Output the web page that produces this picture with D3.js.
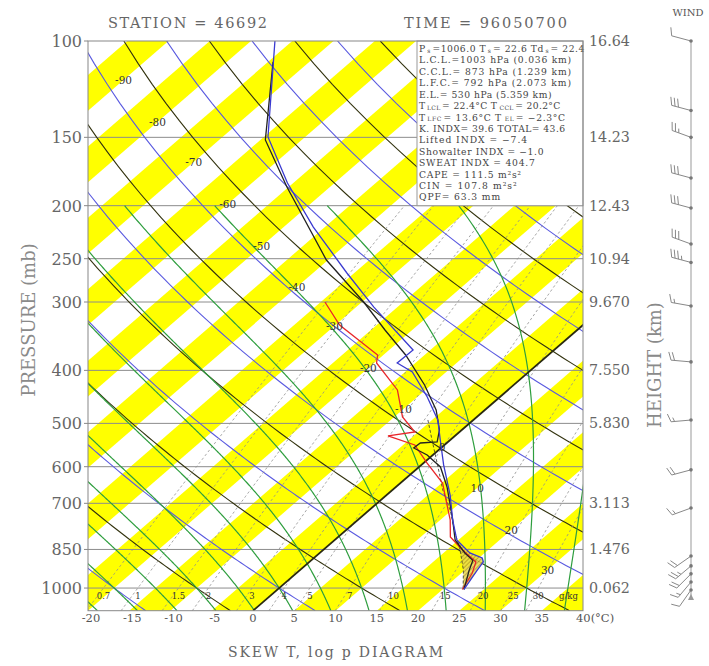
<!DOCTYPE html>
<html><head><meta charset="utf-8">
<script src="https://cdn.jsdelivr.net/npm/d3@7"></script>
<style>body{margin:0;background:#fff} text{font-family:"DejaVu Serif",serif}</style>
</head><body><svg id="c" width="709" height="666"></svg>
<script>
// ---------------- DATA ----------------
const pressureTicks=[100,150,200,250,300,400,500,600,700,850,1000];
const heightLevels=[100,150,200,250,300,400,500,700,850,1000];
const heightLabels=["16.64","14.23","12.43","10.94","9.670","7.550","5.830","3.113","1.476","0.062"];
const tempTicks=[-20,-15,-10,-5,0,5,10,15,20,25,30,35,40];
const isoLabelT=[-90,-80,-70,-60,-50,-40,-30,-20,-10,0,10,20,30];
const isoLabelP=[117.8,140.6,166.4,198.6,237,281.6,331.8,396,470.6,552.2,656.2,783.2,926.6];
const mixRatios=[0.7,1,1.5,2,3,4,5,7,10,15,20,25,30];
const moistThetaW=[-30,-25,-20,-15,-10,-5,0,5,10,15,20,25,30,35,40];
const dryTheta=[-40,-30,-20,-10,0,10,20,30,40,50,60,70,80,90,100,110,120,130,140,150,160,170,180,190,200,210,220];

// sounding: temperature (blue)
const tempP=[100,149.8,181.8,218.8,265.5,306.3,367.1,387.8,402.8,447.4,492.9,536.2,595.6,676,750.8,816.8,862.7,881,896,926.7,1006];
const tempT=[-77.1,-64.5,-55.7,-46.4,-35.9,-27.9,-17.1,-17.2,-14.1,-8.8,-4.3,-1.2,2.7,7.7,11.5,14.8,18.2,20.4,21.1,21.5,22.6];
// dew point (red)
const dewP=[300,330.5,374.9,387.8,434.4,486.7,518.4,527.2,547.5,590.7,642.6,681.6,750.8,806.5,852,896,938.5,1006];
const dewT=[-34.5,-29.5,-20.7,-19.7,-13.4,-9.0,-5.4,-8.1,-3.6,0.4,5.1,7.4,11.2,13.6,16.9,20.2,21.3,22.4];
// second sounding curve (black)
const blackP=[109.2,151.7,184.9,251.4,300,337.5,374.9,425.4,472.6,514.1,540.7,543,554.5,571,600.7,653.5,704.9,750.8,816.8,862.7,890,930,1006];
const blackT=[-74.4,-64.4,-55.2,-40.2,-29.8,-23.3,-17.3,-10.8,-5.9,-2.7,-1.3,-3.2,-3.3,-0.7,2.6,6.2,9.1,11.5,14.6,17.6,19.6,20.6,22.6];
// lifted parcel (dashed)
const parcelP=[492.9,536.2,600.7,661.8,719.9,783.1,852,926.7,1003];
const parcelT=[-5.5,-2.2,2.3,6.1,9.8,13.1,16.6,19.8,22.4];
// winds
const windP=[100,134,150,178,202,235,254,305,386,493,608,714,874,911,942,975,1008];
const windDir=[285,285,290,285,285,290,285,280,275,265,255,250,235,230,225,220,215];
const windSpd=[10,30,25,30,30,30,35,15,20,15,20,15,20,25,20,15,10];
// info box
const infoLines=[
 [["P"],["s","sub"],["=1006.0 T"],["s","sub"],["= 22.6 Td"],["s","sub"],["= 22.4"]],
 [["L.C.L.=1003 hPa (0.036 km)"]],
 [["C.C.L.= 873 hPa (1.239 km)"]],
 [["L.F.C.= 792 hPa (2.073 km)"]],
 [["E.L.= 530 hPa (5.359 km)"]],
 [["T"],["LCL","sub"],[" = 22.4\u00b0C  T"],["CCL","sub"],[" = 20.2\u00b0C"]],
 [["T"],["LFC","sub"],[" = 13.6\u00b0C  T"],["EL","sub"],["  = \u22122.3\u00b0C"]],
 [["K. INDX= 39.6  TOTAL= 43.6"]],
 [["Lifted INDX  =   \u22127.4"]],
 [["Showalter INDX  =   \u22121.0"]],
 [["SWEAT INDX  =  404.7"]],
 [["CAPE  =   111.5 m\u00b2s\u00b2"]],
 [["CIN   =   107.8 m\u00b2s\u00b2"]],
 [["QPF= 63.3 mm"]]
];
const infoWidths=[166,153,153,153,133,142,148,147,112,127,118,105,103,82];

// ---------------- GEOMETRY ----------------
const svg=d3.select("#c");
const plot={l:88,r:583,t:41,b:610.7};
const yS=d3.scaleLog().domain([1100,100]).range([plot.b,plot.t]);
const xT=d3.scaleLinear().domain([-20,40]).range([plot.l,plot.r]);
const SK=1.155;
const X=(t,p)=>xT(t)+SK*(plot.b-yS(p));
const line=d3.line().x(d=>X(d[1],d[0])).y(d=>yS(d[0]));

const defs=svg.append("defs");
defs.append("clipPath").attr("id","clip").append("rect")
 .attr("x",plot.l).attr("y",plot.t).attr("width",plot.r-plot.l).attr("height",plot.b-plot.t);
const pat=defs.append("pattern").attr("id","hatch").attr("patternUnits","userSpaceOnUse")
 .attr("width",3).attr("height",3).attr("patternTransform","rotate(45)");
pat.append("rect").attr("width",3).attr("height",3).attr("fill","#e8d84a");
pat.append("line").attr("x1",0).attr("y1",0).attr("x2",0).attr("y2",3).attr("stroke","#7a5f10").attr("stroke-width",1);

svg.append("rect").attr("width",709).attr("height",666).attr("fill","#fff");
const g=svg.append("g").attr("clip-path","url(#clip)");

// yellow isotherm bands
const bandStarts=d3.range(-165,40,10);
g.selectAll(".band").data(bandStarts).join("path")
 .attr("d",s=>`M${X(s,1100)},${yS(1100)}L${X(s,100)},${yS(100)}L${X(s+5,100)},${yS(100)}L${X(s+5,1100)},${yS(1100)}Z`)
 .attr("fill","#ffff00");

// isobars
g.selectAll(".isobar").data(pressureTicks.slice(1)).join("line")
 .attr("x1",plot.l).attr("x2",plot.r).attr("y1",d=>yS(d)).attr("y2",d=>yS(d))
 .attr("stroke","#8c8c8c").attr("stroke-width",1);

// dry adiabats
const pLevels=d3.range(1100,99,-10);
dryTheta.forEach(th=>{
  const pts=pLevels.map(p=>[p,(th+273.15)*Math.pow(p/1000,0.2857)-273.15]);
  g.append("path").attr("d",line(pts)).attr("fill","none")
   .attr("stroke",Math.abs(th)%20===0?"#5a5ae0":"#33330f").attr("stroke-width",1.1);
});

// mixing ratio lines
function tdFromW(w,p){const e=(w/1000)*p/(0.622+w/1000);const l=Math.log(e/6.112);return 243.5*l/(17.67-l);}
mixRatios.forEach(w=>{
  const pts=d3.range(1100,199,-10).map(p=>[p,tdFromW(w,p)]);
  g.append("path").attr("d",line(pts)).attr("fill","none")
   .attr("stroke","#8e8e8e").attr("stroke-width",0.8).attr("stroke-dasharray","2.5,2.5");
});

// moist adiabats
function dTdp(T,p){const es=6.112*Math.exp(17.67*(T-273.15)/(T-29.65));const rs=0.622*es/(p-es);
 const Rd=287.04,Lv=2.501e6,cp=1005.7;return (1/p)*(Rd*T+Lv*rs)/(cp+Lv*Lv*rs*0.622/(Rd*T*T));}
function moist(thw){
  const dp=2;let T=thw+273.15,p=1000;const down=[];
  while(p<1100){const k=dTdp(T,p);const Tm=T+k*dp/2;T+=dTdp(Tm,p+dp/2)*dp;p+=dp;down.push([p,T-273.15]);}
  T=thw+273.15;p=1000;const up=[[1000,thw]];
  while(p>200){const k=dTdp(T,p);const Tm=T-k*dp/2;T-=dTdp(Tm,p-dp/2)*dp;p-=dp;up.push([p,T-273.15]);}
  return down.reverse().concat(up);
}
moistThetaW.forEach(t=>{
  g.append("path").attr("d",line(moist(t))).attr("fill","none").attr("stroke","#2e9e3e").attr("stroke-width",1.2);
});

// 0 C isotherm
g.append("line").attr("x1",X(0,1100)).attr("y1",yS(1100)).attr("x2",X(0,100)).attr("y2",yS(100))
 .attr("stroke","#2a2a10").attr("stroke-width",1.8);

// isotherm labels
svg.selectAll(".isolab").data(isoLabelT).join("text")
 .attr("x",(d,i)=>X(d,isoLabelP[i])).attr("y",(d,i)=>yS(isoLabelP[i])+4)
 .attr("text-anchor","middle").attr("font-size",10.5).attr("fill","#333").text(d=>d);

// mixing ratio labels
svg.selectAll(".mrlab").data(mixRatios).join("text")
 .attr("x",d=>X(tdFromW(d,1000),1000)).attr("y",599)
 .attr("text-anchor","middle").attr("font-size",8.5).attr("fill","#333").text(d=>d);
svg.append("text").attr("x",559).attr("y",599).attr("font-size",8.5).attr("fill","#333").text("g/kg");

// CIN hatch between parcel and temperature
const hatchPts=[];
parcelP.forEach((p,i)=>{if(p>=780)hatchPts.push([p,parcelT[i]]);});
const tmpLow=[];tempP.forEach((p,i)=>{if(p>=780)tmpLow.push([p,tempT[i]]);});
tmpLow.reverse().forEach(d=>hatchPts.push(d));
g.append("path").attr("d",line(hatchPts)+"Z").attr("fill","url(#hatch)").attr("opacity",0.85);

// profiles
const zip=(P,T)=>P.map((p,i)=>[p,T[i]]);
g.append("path").attr("d",line(zip(parcelP,parcelT))).attr("fill","none").attr("stroke","#333").attr("stroke-width",0.8).attr("stroke-dasharray","3,2");
g.append("path").attr("d",line(zip(dewP,dewT))).attr("fill","none").attr("stroke","#e8262a").attr("stroke-width",1.3);
g.append("path").attr("d",line(zip(blackP,blackT))).attr("fill","none").attr("stroke","#222").attr("stroke-width",1.3);
g.append("path").attr("d",line(zip(tempP,tempT))).attr("fill","none").attr("stroke","#3a3ad0").attr("stroke-width",1.3);

// info box
svg.append("rect").attr("x",417).attr("y",plot.t).attr("width",plot.r-417).attr("height",yS(200)-plot.t)
 .attr("fill","#fff").attr("stroke","#999").attr("stroke-width",1);
const infoG=svg.append("g").attr("fill","#444");
const GAP=1.5;
infoLines.forEach((segs,i)=>{
  const y0=52+11.42*i;
  const nodes=segs.map(s=>{
    const sub=s[1]==="sub";
    const t=infoG.append("text").attr("y",sub?y0+0.8:y0).attr("font-size",sub?6:9.2).text(s[0]);
    return {t,len:s[0].length,w:t.node().getComputedTextLength()};
  });
  const W0=d3.sum(nodes,n=>n.w), N=d3.sum(nodes,n=>n.len);
  const gaps=GAP*(nodes.length-1);
  const ls=Math.max(0,(infoWidths[i]-W0-gaps)/N);
  let x=419;
  nodes.forEach(n=>{
    n.t.attr("x",x).attr("letter-spacing",ls);
    x+=n.w+ls*n.len+GAP;
  });
});

// frame
svg.append("rect").attr("x",plot.l).attr("y",plot.t).attr("width",plot.r-plot.l).attr("height",plot.b-plot.t)
 .attr("fill","none").attr("stroke","#888").attr("stroke-width",1);

// left axis
svg.selectAll(".pl").data(pressureTicks).join("text")
 .attr("x",82).attr("y",d=>yS(d)+6).attr("text-anchor","end").attr("font-size",16).attr("fill","#666").text(d=>d);
svg.selectAll(".ptk").data(pressureTicks).join("line")
 .attr("x1",84).attr("x2",plot.l).attr("y1",d=>yS(d)).attr("y2",d=>yS(d)).attr("stroke","#888");
// right axis heights
svg.selectAll(".hl").data(heightLevels).join("text")
 .attr("x",589).attr("y",d=>yS(d)+5).attr("font-size",14.3).attr("fill","#666").text((d,i)=>heightLabels[i]);
// bottom axis
svg.selectAll(".tl").data(tempTicks).join("text")
 .attr("x",d=>d===40?xT(d)-7:xT(d)+(d<0?3:0)).attr("y",622).attr("text-anchor",d=>d===40?"start":"middle")
 .attr("font-size",11.5).attr("fill","#555").text(d=>d===40?"40(\u00b0C)":d);

// titles
svg.append("text").attr("x",108).attr("y",28).attr("font-size",14.5).attr("fill","#666")
 .attr("textLength",159).attr("lengthAdjust","spacing").text("STATION = 46692");
svg.append("text").attr("x",404).attr("y",28).attr("font-size",14.5).attr("fill","#666")
 .attr("textLength",163).attr("lengthAdjust","spacing").text("TIME = 96050700");
svg.append("text").attr("x",228).attr("y",657).attr("font-size",14).attr("fill","#666")
 .attr("textLength",215).attr("lengthAdjust","spacing").text("SKEW T, log p DIAGRAM");
svg.append("text").attr("transform","translate(35,320) rotate(-90)").attr("text-anchor","middle")
 .attr("font-size",18).attr("fill","#8a8a8a").text("PRESSURE (mb)");
svg.append("text").attr("transform","translate(661,365) rotate(-90)").attr("text-anchor","middle")
 .attr("font-size",18).attr("fill","#8a8a8a").text("HEIGHT (km)");
svg.append("text").attr("x",688).attr("y",16).attr("text-anchor","middle").attr("font-size",10).attr("fill","#555").text("WIND");

// wind column
const wx=691;
svg.append("line").attr("x1",wx).attr("x2",wx).attr("y1",yS(windP[0])).attr("y2",598).attr("stroke","#999").attr("stroke-width",1);
svg.append("path").attr("d",`M${wx-3},600L${wx+3},600L${wx},594Z`).attr("fill","#999");
const wg=svg.append("g").attr("stroke","#888").attr("stroke-width",1).attr("fill","none");
windP.forEach((p,i)=>{
  const y=yS(p),a=windDir[i]*Math.PI/180,L=20;
  const ux=Math.sin(a),uy=-Math.cos(a);
  const px=-uy,py=ux;
  wg.append("line").attr("x1",wx).attr("y1",y).attr("x2",wx+ux*L).attr("y2",y+uy*L);
  let s=windSpd[i],k=0;
  while(s>=10){const d=L-k*3.5;const bx=wx+ux*d,by=y+uy*d;
    wg.append("line").attr("x1",bx).attr("y1",by).attr("x2",bx+px*8+ux*3).attr("y2",by+py*8+uy*3);s-=10;k++;}
  if(s>=5){const d=L-k*3.5;const bx=wx+ux*d,by=y+uy*d;
    wg.append("line").attr("x1",bx).attr("y1",by).attr("x2",bx+px*4+ux*1.5).attr("y2",by+py*4+uy*1.5);}
  svg.append("circle").attr("cx",wx).attr("cy",y).attr("r",1.8).attr("fill","#777");
});
</script></body></html>
